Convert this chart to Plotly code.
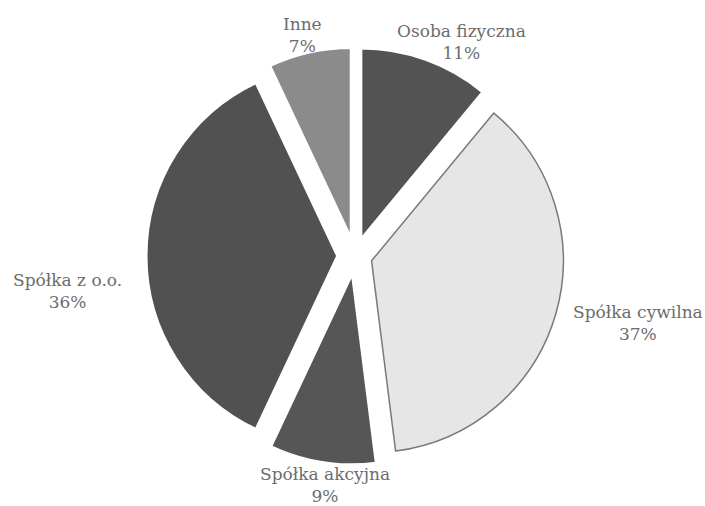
import plotly.graph_objects as go

labels = ["Osoba fizyczna", "Spółka cywilna", "Spółka akcyjna", "Spółka z o.o.", "Inne"]
values = [11, 37, 9, 36, 7]
percent_text = ["11%", "37%", "9%", "36%", "7%"]
colors = ["#535353", "#e6e6e6", "#565656", "#515151", "#8b8b8b"]
line_colors = ["#ffffff", "#7a7a7a", "#ffffff", "#ffffff", "#ffffff"]
line_widths = [3, 1.5, 3, 3, 3]
pulls = [0.09, 0.09, 0.09, 0.09, 0.09]

# label block centres in pixels (layout, not data)
label_xy = [(462, 42), (638, 323), (325, 485), (67, 291), (302, 35)]

W, H = 705, 506
cx, cy, half = 355, 256, 209

fig = go.Figure(go.Pie(
    labels=labels,
    values=values,
    sort=False,
    direction="clockwise",
    rotation=0,
    pull=pulls,
    marker=dict(colors=colors, line=dict(color=line_colors, width=line_widths)),
    textinfo="none",
    hoverinfo="label+percent",
    showlegend=False,
    domain=dict(x=[(cx - half) / W, (cx + half) / W],
                y=[(H - cy - half) / H, (H - cy + half) / H]),
))

font = dict(family="DejaVu Serif", size=17, color="#6c6c6c")
annotations = []
for name, pct, (lx, ly) in zip(labels, percent_text, label_xy):
    annotations.append(dict(x=lx / W, y=1 - ly / H, xref="paper", yref="paper",
                            text=f"{name}<br>{pct}", showarrow=False, font=font,
                            align="center", xanchor="center", yanchor="middle"))

fig.update_layout(
    width=W, height=H,
    margin=dict(l=0, r=0, t=0, b=0),
    paper_bgcolor="white",
    plot_bgcolor="white",
    annotations=annotations,
)

fig.write_html("out.html", config={"displayModeBar": False},
               post_script="document.body.style.margin='0';")
